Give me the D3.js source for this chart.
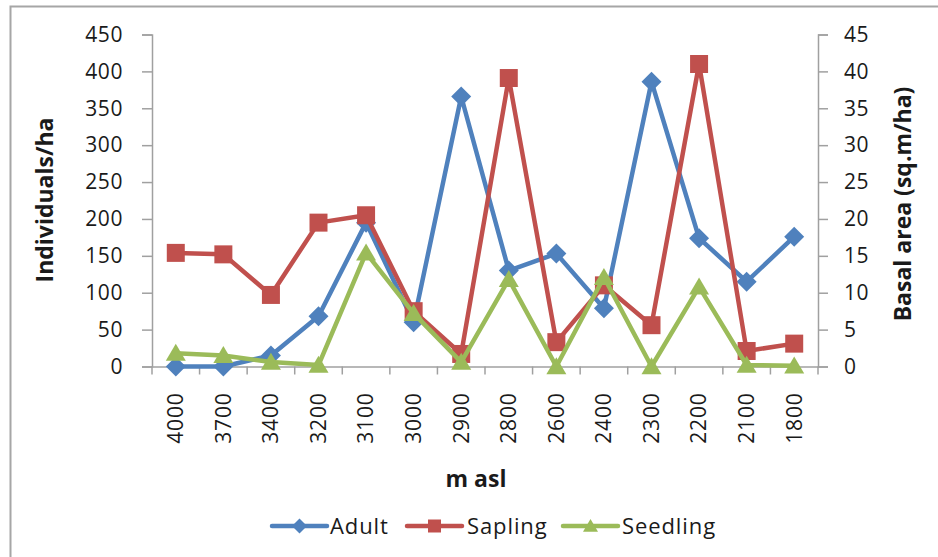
<!DOCTYPE html>
<html>
<head>
<meta charset="utf-8">
<script src="https://cdn.jsdelivr.net/npm/d3@7"></script>
<style>
  html, body { margin: 0; padding: 0; background: #fff; }
  svg { display: block; font-family: "Open Sans", "Noto Sans", sans-serif; }
</style>
</head>
<body>
<svg id="chart" width="938" height="557"></svg>
<script>
// Elevation classes along the transect (m asl)
const elevations = ["4000","3700","3400","3200","3100","3000","2900","2800","2600","2400","2300","2200","2100","1800"];

// Density per hectare for each life stage
const adult    = [0, 0, 15, 68, 195, 60, 366, 130, 153, 79, 386, 174, 115, 176];
const sapling  = [154, 152, 97, 195, 205, 75, 17, 391, 33, 110, 56, 410, 21, 31];
const seedling = [18, 15, 6, 2, 154, 72, 6, 118, 0, 121, 0, 108, 2, 1];

const leftTicks  = [0, 50, 100, 150, 200, 250, 300, 350, 400, 450];
const rightTicks = [0, 5, 10, 15, 20, 25, 30, 35, 40, 45];

const seriesNames  = ["Adult", "Sapling", "Seedling"];
const seriesColors = ["#4F81BD", "#C0504D", "#9BBB59"];
const seriesShapes = ["diamond", "square", "triangle"];
const seriesData   = [adult, sapling, seedling];

const svg = d3.select("#chart");

// chart frame
svg.append("rect")
  .attr("x", 10.5).attr("y", 6.5).attr("width", 1000).attr("height", 1000)
  .attr("fill", "none").attr("stroke", "#A6A6A6").attr("stroke-width", 2);

const plot = { left: 152, right: 818, top: 34.5, bottom: 366.5 };

const x = d3.scaleBand().domain(elevations).range([plot.left, plot.right]).padding(0);
const cx = d => x(d) + x.bandwidth() / 2;
const y  = d3.scaleLinear().domain([0, 450]).range([plot.bottom, plot.top]);
const y2 = d3.scaleLinear().domain([0, 45]).range([plot.bottom, plot.top]);

const axisColor = "#A0A0A0";
const textColor = "#1a1a1a";

// left axis
const gl = svg.append("g").attr("transform", `translate(${plot.left},0)`)
  .call(d3.axisLeft(y).tickValues(leftTicks).tickSize(10).tickPadding(19));
// right axis
const gr = svg.append("g").attr("transform", `translate(${plot.right},0)`)
  .call(d3.axisRight(y2).tickValues(rightTicks).tickSize(10).tickPadding(16));
[gl, gr].forEach(g => {
  g.selectAll("path.domain").attr("stroke", axisColor).attr("stroke-width", 1.5);
  g.selectAll(".tick line").attr("stroke", axisColor).attr("stroke-width", 1.5);
  g.selectAll(".tick text").attr("fill", textColor)
    .style("font-size", "21px").style("font-family", "'Open Sans', sans-serif")
    .style("letter-spacing", "0.6px");
});

// bottom axis: labels centred in each category, ticks on category boundaries
const gb = svg.append("g").attr("transform", `translate(0,${plot.bottom})`)
  .call(d3.axisBottom(x).tickSize(0).tickPadding(0));
gb.select("path.domain").attr("stroke", axisColor).attr("stroke-width", 1.5);
gb.selectAll(".tick text")
  .attr("fill", textColor)
  .style("font-size", "21px").style("font-family", "'Open Sans', sans-serif")
  .style("letter-spacing", "0.8px")
  .attr("text-anchor", "end")
  .attr("transform", "translate(0,26) rotate(-90)")
  .attr("x", 0).attr("y", 0).attr("dy", "0.35em");
const bounds = elevations.map(d => x(d)).concat([x(elevations[elevations.length - 1]) + x.bandwidth()]);
gb.selectAll("line.bound").data(bounds).enter().append("line")
  .attr("class", "bound")
  .attr("x1", d => d).attr("x2", d => d).attr("y1", 0).attr("y2", 8)
  .attr("stroke", axisColor).attr("stroke-width", 1.5);

// axis titles
const titleStyle = sel => sel.attr("text-anchor", "middle").attr("dy", "0.35em")
  .style("font-size", "23px").style("font-weight", "bold").attr("fill", textColor);
svg.append("text")
  .attr("transform", `translate(45,200) rotate(-90)`)
  .call(titleStyle)
  .text("Individuals/ha");
svg.append("text")
  .attr("transform", `translate(903,204) rotate(-90)`)
  .call(titleStyle)
  .text("Basal area (sq.m/ha)");
svg.append("text")
  .attr("x", 476).attr("y", 479)
  .call(titleStyle)
  .text("m asl");

// marker symbols
function markerPath(shape, size) {
  const s = size / 2;
  if (shape === "diamond") return `M0,${-s}L${s},0L0,${s}L${-s},0Z`;
  if (shape === "square") return `M${-s},${-s}H${s}V${s}H${-s}Z`;
  const h = size * 0.85;
  return `M0,${-h * 0.55}L${s},${h * 0.45}L${-s},${h * 0.45}Z`;
}

const line = d3.line().x((d, i) => cx(elevations[i])).y(d => y(d));

seriesData.forEach((vals, k) => {
  const g = svg.append("g");
  g.append("path").datum(vals)
    .attr("d", line).attr("fill", "none")
    .attr("stroke", seriesColors[k]).attr("stroke-width", 4.5)
    .attr("stroke-linejoin", "round").attr("stroke-linecap", "round");
  g.selectAll("path.mk").data(vals).enter().append("path")
    .attr("class", "mk")
    .attr("transform", (d, i) => `translate(${cx(elevations[i])},${y(d)})`)
    .attr("d", markerPath(seriesShapes[k], seriesShapes[k] === "square" ? 18 : 20))
    .attr("fill", seriesColors[k]);
});

// legend
const legendItems = [
  { x0: 272, textX: 330 },
  { x0: 407, textX: 467 },
  { x0: 563, textX: 622 }
];
const ly = 526;
legendItems.forEach((it, k) => {
  const g = svg.append("g");
  g.append("line").attr("x1", it.x0).attr("x2", it.x0 + 55).attr("y1", ly).attr("y2", ly)
    .attr("stroke", seriesColors[k]).attr("stroke-width", 4.5).attr("stroke-linecap", "round");
  g.append("path").attr("transform", `translate(${it.x0 + 27.5},${ly})`)
    .attr("d", markerPath(seriesShapes[k], seriesShapes[k] === "square" ? 13 : 15))
    .attr("fill", seriesColors[k]);
  g.append("text").attr("x", it.textX).attr("y", ly).attr("dy", "0.35em")
    .style("font-size", "22px").style("letter-spacing", "0.9px").attr("fill", textColor)
    .text(seriesNames[k]);
});
</script>
</body>
</html>
